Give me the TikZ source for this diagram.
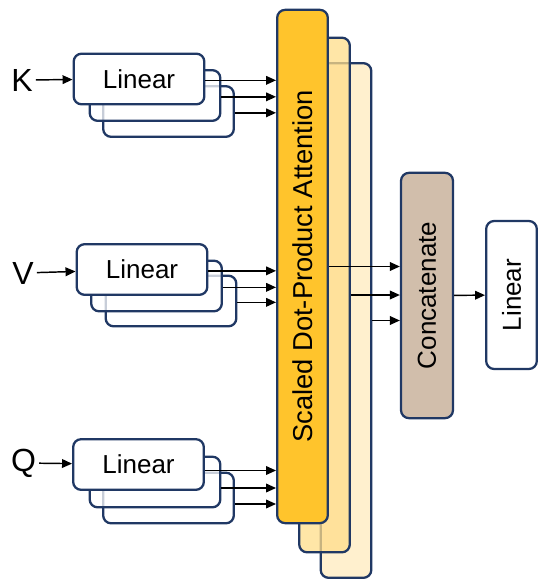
\documentclass[tikz,border=0pt]{standalone}
\usepackage{fontspec}
\setmainfont{Liberation Sans}
\usetikzlibrary{arrows.meta}

\definecolor{navy}{RGB}{32,56,100}
\definecolor{sdpafront}{RGB}{255,196,44}
\definecolor{sdpamid}{RGB}{255,221,138}
\definecolor{sdpaback}{RGB}{255,240,206}
\definecolor{concatfill}{RGB}{209,190,171}

\tikzset{every picture/.style={line width=0.75pt}}
\tikzset{
  box/.style={draw=navy, line width=1.7pt, rounded corners=6pt, inner sep=0pt,
    font=\fontsize{19.5}{22}\selectfont},
  seethru/.style={fill opacity=0.75},
  linbox/.style={box, fill=white, minimum width=98pt, minimum height=38pt},
  tallbox/.style={box, minimum width=38pt},
  inlabel/.style={inner sep=2pt, font=\fontsize{24}{28}\selectfont},
  arr/.style={-{Triangle[length=7.5pt,width=6.5pt]}, line width=1.1pt}
}

\begin{document}
\begin{tikzpicture}[x=0.75pt,y=0.75pt,yscale=-1,xscale=1]
\useasboundingbox (0,0) rectangle (550,588);

% Scaled Dot-Product Attention heads
\node [tallbox, fill=sdpaback, minimum height=386pt] (sdpa3) at (346,320.5) {};
\node [tallbox, seethru, fill=sdpamid, minimum height=386pt] (sdpa2) at (324.5,295) {};
\node [tallbox, fill=sdpafront, minimum height=385pt, font=\fontsize{20.5}{24}\selectfont] (sdpa1) at (302.5,266.5) {\rotatebox{90}{Scaled Dot-Product Attention}};
% Concatenate and output Linear
\node [tallbox, fill=concatfill, minimum height=184pt, minimum width=39pt] (concat) at (427,295.5) {\rotatebox{90}{Concatenate}};
\node [tallbox, fill=white, minimum height=111pt] (out) at (511.5,295) {\rotatebox{90}{Linear}};

% K group
\node [linbox] (lk3) at (168.5,111.5) {};
\node [linbox, seethru] (lk2) at (155,95.5) {};
\node [linbox] (lk1) at (139,79) {Linear};
\node [inlabel] (K) at (22,80) {K};
% V group
\node [linbox] (lv3) at (171,301) {};
\node [linbox, seethru] (lv2) at (156.5,286) {};
\node [linbox] (lv1) at (142,269.5) {Linear};
\node [inlabel] (V) at (23,273) {V};
% Q group
\node [linbox] (lq3) at (168.5,498) {};
\node [linbox, seethru] (lq2) at (155,482) {};
\node [linbox] (lq1) at (138.5,464.5) {Linear};
\node [inlabel] (Q) at (23.5,463) {Q};

% inputs
\draw [arr] (K) -- (lk1);
\draw [arr] (V) -- (lv1);
\draw [arr] (Q) -- (lq1);

% projections into attention
\foreach \g in {k,v}{
  \foreach \i in {1,2,3}{
    \draw [arr] ([yshift=1pt]l\g\i.east) coordinate (p) -- (p -| sdpa1.west);
  }
}
\foreach \i in {1,2,3}{
  \draw [arr] ([yshift=4.5pt]lq\i.east) coordinate (p) -- (p -| sdpa1.west);
}

% heads into concatenate
\foreach \i in {1,2,3}{
  \draw [arr] (sdpa\i.east) -- (concat.west |- sdpa\i.east);
}
\draw [arr] (concat) -- (out);

\end{tikzpicture}
\end{document}
